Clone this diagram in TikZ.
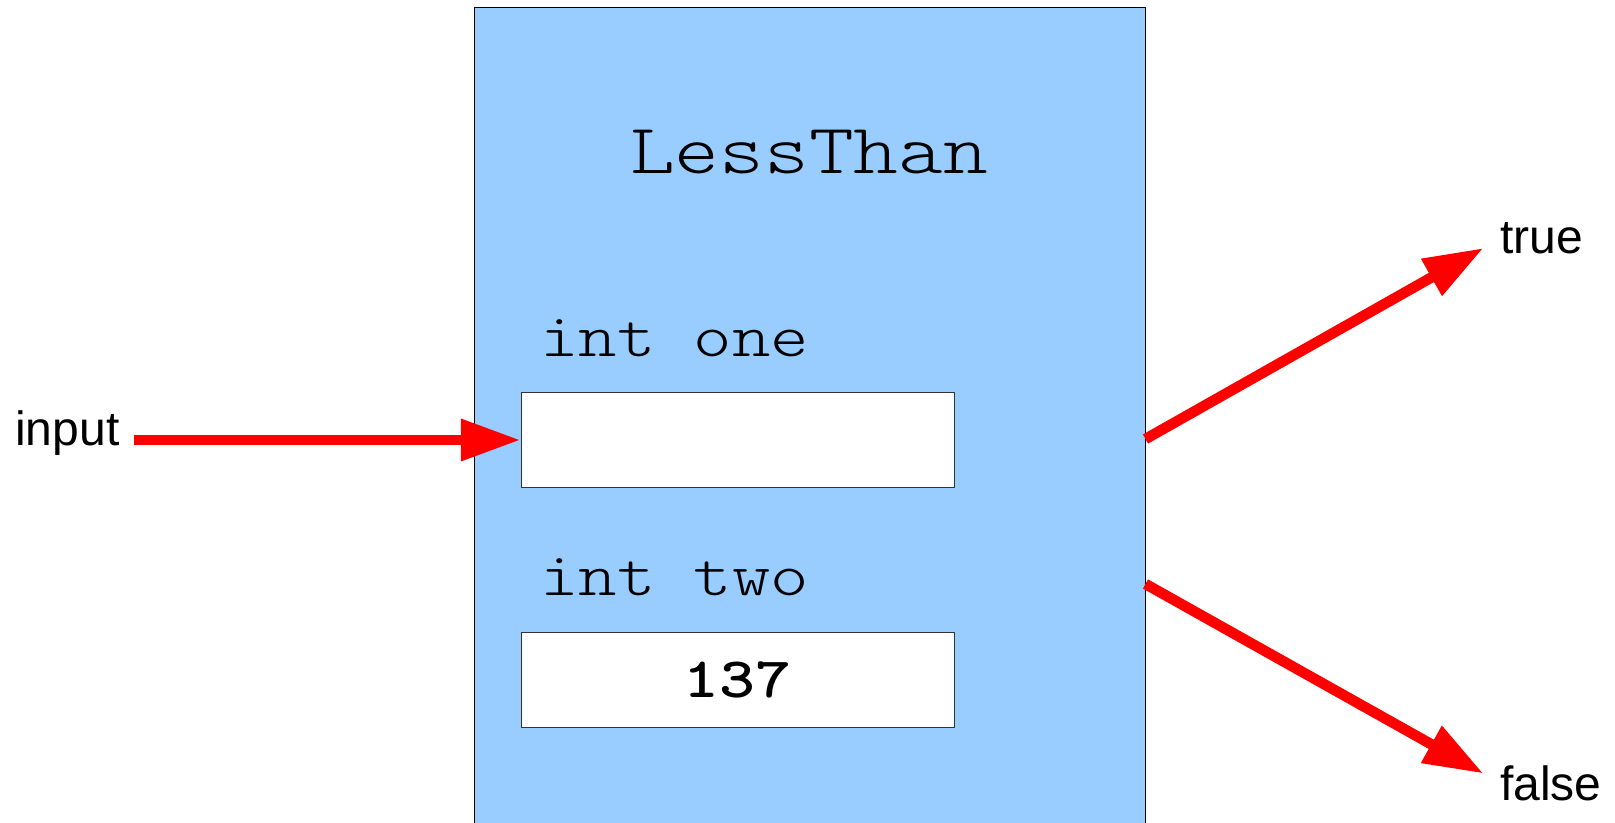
\documentclass[tikz,border=0pt]{standalone}
\usepackage{xcolor}
\usepackage{fontspec}
\setmainfont{Liberation Sans}
\newfontfamily\codefont{lmmonolt10}[Extension=.otf, UprightFont=*-regular, BoldFont=*-bold, FakeStretch=1.2]
\usetikzlibrary{arrows.meta}
\definecolor{boxblue}{HTML}{99CCFF}

\begin{document}
\begin{tikzpicture}[x = 0.03cm, y = -0.03cm,
    field/.style = {draw = black!80, fill = white, line width = 0.8pt, minimum width = 12.99cm, minimum height = 2.85cm},
    code/.style = {font = \codefont\fontsize{52pt}{60pt}\selectfont, inner sep = 0, anchor = base west},
    word/.style = {font = \fontsize{41pt}{48pt}\selectfont, inner sep = 0, anchor = base west},
    flow/.style = {red, line width = 9pt, -{Triangle[length = 51pt, width = 34pt]}}]
    \useasboundingbox (0, 0) rectangle (1615, 823);
    {
      \node[draw, fill = boxblue, line width = 0.8pt, minimum width = 20.13cm, minimum height = 24.99cm] (lessthan) at (809.5, 423.5) {};
      \node[font = \codefont\fontsize{60.6pt}{70pt}\selectfont, inner sep = 0, anchor = base] (title) at (809, 174) {LessThan};
    }
    {
      \node[code] (onelbl) at (540, 357) {int one};
      \node[field] (one) at (737.5, 440) {};
      \node[code] (twolbl) at (540, 595) {int two};
      \node[field, font = \codefont\bfseries\fontsize{48.7pt}{56pt}\selectfont] (two) at (737.5, 680) {137};
    }
    \node[word] (input) at (15, 445) {input};
    \node[word] (true) at (1500, 254) {true};
    \node[word] (false) at (1500, 800) {false};
    \draw[flow, shorten <= 0.42cm] (input.east |- one.west) -- (one.west);
    \draw[flow, shorten >= 0.57cm] (lessthan.east |- 0, 439) -- (true.west);
    \draw[flow, shorten >= 0.57cm] (lessthan.east |- 0, 584) -- (false.west);
  \end{tikzpicture}
\end{document}
